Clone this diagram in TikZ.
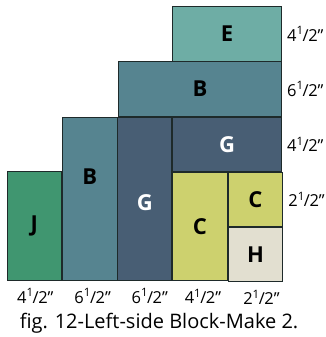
\documentclass[tikz,border=0pt]{standalone}
\usepackage{fontspec}
\setmainfont{Open Sans}
\usetikzlibrary{positioning}

\definecolor{ecolor}{HTML}{6EADA5}
\definecolor{bcolor}{HTML}{568490}
\definecolor{gcolor}{HTML}{485E74}
\definecolor{jcolor}{HTML}{409670}
\definecolor{ccolor}{HTML}{CDD16E}
\definecolor{hcolor}{HTML}{E2DFD0}
\definecolor{seam}{HTML}{1E2A2A}

\newcommand{\inchhalf}[1]{#1\textsuperscript{1}\kern-1pt/\kern-0.5pt2\symbol{34}}

\tikzset{
  patch/.style={rectangle, draw=seam, line width=0.8pt, inner sep=0pt, text centered,
    font=\bfseries\fontsize{22}{22}\selectfont},
  letter/.style={inner sep=0pt, font=\bfseries\fontsize{22}{22}\selectfont},
  size/.style={inner sep=0pt, font=\fontsize{16.5}{16.5}\selectfont},
}

\begin{document}
\begin{tikzpicture}[x=1pt, y=1pt]

  \useasboundingbox (0,0) rectangle (326,-337);

  % Define the rows on the right
  \node (e) [patch, fill=ecolor, minimum width=109pt, minimum height=54.7pt, anchor=north east] at (282,-6) {E};
  \node (brow) [patch, fill=bcolor, minimum width=163pt, minimum height=54.3pt, anchor=north east] at (e.south east) {B};
  \node (gwide) [patch, fill=gcolor, text=white, minimum width=109pt, minimum height=54.3pt, anchor=north east] at (brow.south east) {G};

  % Tall columns on the left
  \node (gcol) [patch, fill=gcolor, minimum width=54pt, minimum height=163pt, anchor=north east] at (gwide.north west) {};
  \node (bcol) [patch, fill=bcolor, minimum width=54.7pt, minimum height=163pt, anchor=north east] at (gcol.north west) {};
  \node (j) [patch, fill=jcolor, minimum width=54.3pt, minimum height=108.7pt, anchor=south east] at (bcol.south west) {J};
  \node (btxt) [letter, below=52pt of bcol.north] {B};
  \node (gtxt) [letter, text=white, below=78pt of gcol.north] {G};

  % Bottom corner pieces
  \node (cbig) [patch, fill=ccolor, minimum width=54.7pt, minimum height=108.7pt, anchor=north west] at (gwide.south west) {C};
  \node (csmall) [patch, fill=ccolor, minimum width=54.7pt, minimum height=54.3pt, anchor=north west] at (cbig.north east) {C};
  \node (h) [patch, fill=hcolor, minimum width=54.7pt, minimum height=54.3pt, anchor=north] at (csmall.south) {H};

  % Sizes along the right side
  \node (esize) [size, right=5pt of e] {\inchhalf{4}};
  \node (bsize) [size, right=5pt of brow] {\inchhalf{6}};
  \node (gsize) [size, right=5pt of gwide] {\inchhalf{4}};
  \node (csize) [size, right=5pt of csmall] {\inchhalf{2}};

  % Sizes along the bottom
  \node (jsize) [size, below=8pt of j, xshift=1pt] {\inchhalf{4}};
  \node (bcolsize) [size, below=8pt of bcol, xshift=3pt] {\inchhalf{6}};
  \node (gcolsize) [size, below=8pt of gcol, xshift=5pt] {\inchhalf{6}};
  \node (cbigsize) [size, below=8pt of cbig, xshift=3pt] {\inchhalf{4}};
  \node (hsize) [size, below=8pt of h, xshift=6pt] {\inchhalf{2}};

  % Caption
  \node (caption) [font=\fontsize{20}{20}\selectfont] at (159,-323) {fig. 12-Left-side Block-Make 2.};

\end{tikzpicture}
\end{document}
